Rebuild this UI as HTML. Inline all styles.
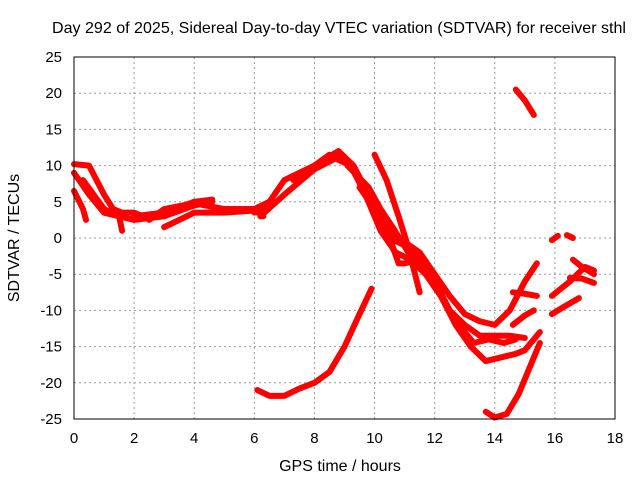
<!DOCTYPE html>
<html><head><meta charset="utf-8"><style>
body{margin:0;background:#fff}
svg{display:block;font-family:"Liberation Sans",sans-serif}
</style></head><body>
<svg id="chart" width="640" height="480">
<text x="339" y="33" font-size="16" text-anchor="middle" textLength="574" lengthAdjust="spacingAndGlyphs">Day 292 of 2025, Sidereal Day-to-day VTEC variation (SDTVAR) for receiver sthl</text>
<text x="340" y="471" font-size="16" text-anchor="middle">GPS time / hours</text>
<text x="19" y="238" font-size="16" text-anchor="middle" transform="rotate(-90 19 238)">SDTVAR / TECUs</text>
<g id="grid"></g><g id="ticks"></g><g id="series"></g>
<rect x="74" y="57" width="541" height="362" fill="none" stroke="#000" stroke-width="1"/>
</svg>
<script>
const xTicks=[0,2,4,6,8,10,12,14,16,18];
const yTicks=[25,20,15,10,5,0,-5,-10,-15,-20,-25];
const trace1=[[0,10.2],[0.5,10],[1,6],[1.3,4],[1.6,3.5],[2,3.5],[2.3,3]];
const trace2=[[0,9],[0.5,6],[1,3.5],[1.5,3],[2,2.5],[3,3],[4,4.5],[4.6,5]];
const trace3=[[0,6.5],[0.3,4],[0.4,2.5]];
const trace4=[[0.3,8],[1,4],[1.5,3],[1.6,1]];
const trace5=[[2,3],[3,3.5],[4,5],[4.6,5.3]];
const trace6=[[3,1.5],[3.5,2.5],[4,3.5],[5,3.5],[6,3.8],[6.3,3]];
const trace7=[[2.5,2.5],[3,4],[4,4.8],[5,4],[6,4],[6.5,5]];
const traceA=[[6,3.5],[6.5,5],[7,8],[7.5,9],[8,10],[8.5,11.5],[9,11],[9.5,8],[10,3],[10.5,0],[11,-1],[11.5,-3],[12,-6],[12.5,-10],[13,-12],[13.5,-13.5],[14,-13.5],[14.5,-13.5],[15,-13.8]];
const traceB=[[6.2,3],[7,6],[8,9.5],[8.7,11],[9.2,10],[9.7,6],[10.2,1],[10.7,-2],[11.2,-3],[11.7,-5],[12.2,-8],[12.7,-12],[13.2,-15],[13.7,-17],[14.2,-16.5],[14.7,-16],[15,-15.5],[15.5,-13]];
const traceC=[[7.3,8],[8,10],[8.8,12],[9.3,10],[9.8,6],[10.3,2],[10.8,0],[11.5,-2],[12,-5],[12.5,-8],[13,-10.5],[13.5,-11.5],[14,-12],[14.5,-10],[15,-6],[15.4,-3.5]];
const traceD=[[10,11.5],[10.4,8],[10.8,3],[11.1,-1],[11.5,-7.5]];
const traceE=[[9.5,7],[10,4],[10.5,0],[10.8,-3.5],[11,-3.5],[11.5,-3],[12,-6],[12.5,-10],[13,-13],[13.3,-14.5],[13.8,-14],[14.3,-14.5],[14.7,-14]];
const traceF=[[9.1,10],[9.8,7],[10.2,4],[10.6,1.5],[11.2,-2.5],[11.6,-4.5]];
const traceG=[[6.1,-21],[6.5,-21.8],[7,-21.8],[7.5,-20.8],[8,-20],[8.5,-18.5],[9,-15],[9.5,-10.5],[9.9,-7]];
const traceH=[[13.7,-24],[14,-24.8],[14.4,-24.3],[14.8,-21.5],[15.2,-17.5],[15.5,-14.5]];
const traceI=[[14.7,20.5],[15.0,19],[15.3,17]];
const traceJ=[[14.6,-7.5],[15,-7.7],[15.4,-8]];
const traceK=[[14.6,-12],[15,-10.7],[15.3,-10]];
const traceL1=[[15.9,-0.3],[16.1,0.3]];
const traceL2=[[16.4,0.4],[16.6,0]];
const traceM=[[15.9,-8],[16.5,-6],[17,-4],[17.3,-4.5]];
const traceN=[[16.6,-3],[16.9,-4],[17.3,-5]];
const traceO=[[15.9,-10.5],[16.3,-9.5],[16.8,-8.3]];
const traceP=[[16.5,-5.5],[16.9,-5.6],[17.3,-6.2]];
const traces=[trace1,trace2,trace3,trace4,trace5,trace6,trace7,traceA,traceB,traceC,traceD,traceE,traceF,traceG,traceH,traceI,traceJ,traceK,traceL1,traceL2,traceM,traceN,traceO,traceP];
const NS="http://www.w3.org/2000/svg";
const X=t=>74+(t/18)*541;
const Y=v=>238-v*(362/50);
const grid=document.getElementById('grid'),ticks=document.getElementById('ticks'),ser=document.getElementById('series');
xTicks.forEach(t=>{
 if(t>0&&t<18){const l=document.createElementNS(NS,'line');
 
 
 l.setAttribute('x1',X(t));l.setAttribute('x2',X(t));l.setAttribute('y1',57);l.setAttribute('y2',419);
 l.setAttribute('stroke','#999');l.setAttribute('stroke-dasharray','2,3');grid.appendChild(l);}
 const tx=document.createElementNS(NS,'text');
 
 
 tx.setAttribute('x',X(t));tx.setAttribute('y',443);tx.setAttribute('font-size','15');tx.setAttribute('text-anchor','middle');tx.textContent=t;ticks.appendChild(tx);
});
yTicks.forEach(v=>{
 if(v>-25&&v<25){const l=document.createElementNS(NS,'line');
 
 
 l.setAttribute('x1',74);l.setAttribute('x2',615);l.setAttribute('y1',Y(v));l.setAttribute('y2',Y(v));
 l.setAttribute('stroke','#999');l.setAttribute('stroke-dasharray','2,3');grid.appendChild(l);}
 const tx=document.createElementNS(NS,'text');
 
 
 tx.setAttribute('x',62);tx.setAttribute('y',Y(v)+5);tx.setAttribute('font-size','15');tx.setAttribute('text-anchor','end');tx.textContent=v;ticks.appendChild(tx);
});
traces.forEach(tr=>{
 const p=document.createElementNS(NS,'polyline');
 
 
 p.setAttribute('points',tr.map(d=>X(d[0])+','+Y(d[1])).join(' '));
 p.setAttribute('fill','none');p.setAttribute('stroke','#f00');p.setAttribute('stroke-width','6');
 p.setAttribute('stroke-linejoin','round');p.setAttribute('stroke-linecap','round');
 ser.appendChild(p);
});
</script>
</body></html>
